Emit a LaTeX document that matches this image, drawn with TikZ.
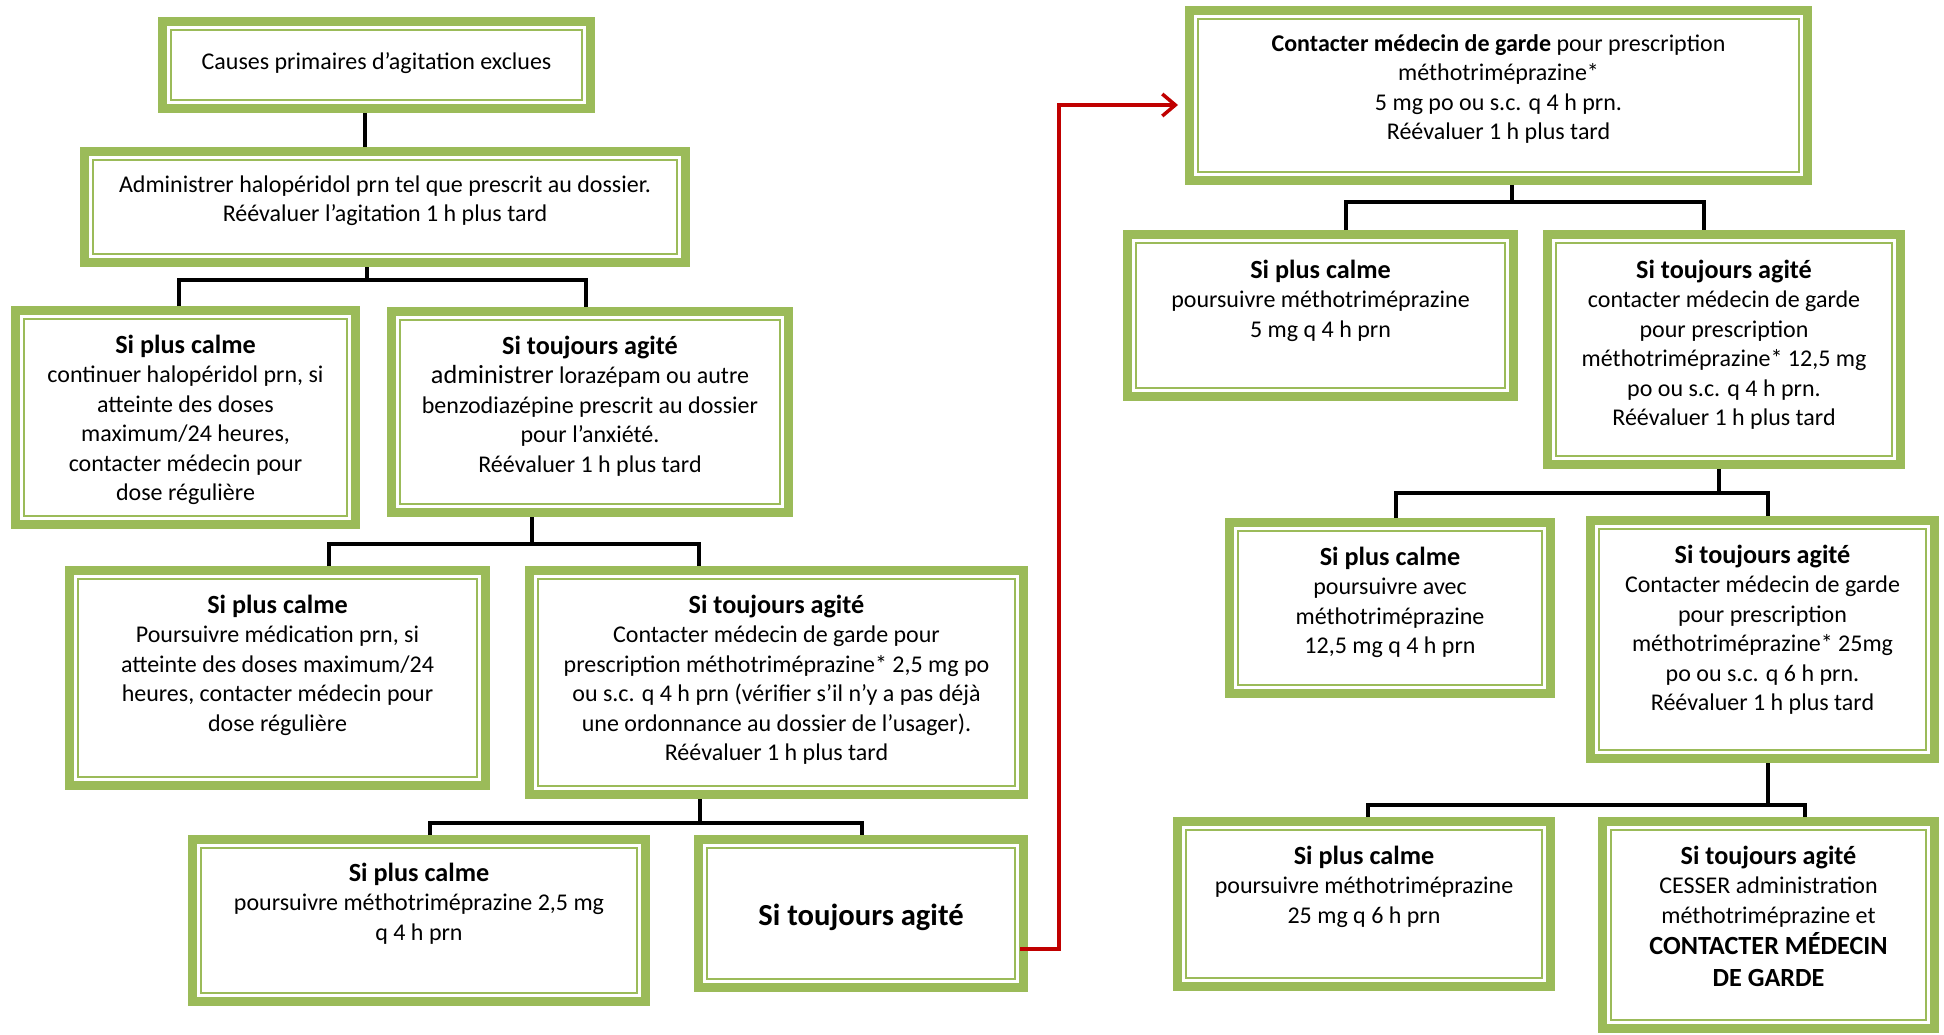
\documentclass[tikz,border=0pt]{standalone}
\usepackage{fontspec}
\setmainfont{Carlito}
\usetikzlibrary{arrows.meta}
\definecolor{boxgreen}{HTML}{9BBB59}
\definecolor{arrowred}{HTML}{C00000}
\tikzset{
  gbox/.style={rectangle, draw=boxgreen, line width=9pt, fill=white, inner sep=0pt,
    path picture={\draw[boxgreen, line width=2.6pt]
      ([xshift=8.5pt,yshift=-8.5pt]path picture bounding box.north west) rectangle
      ([xshift=-8.5pt,yshift=8.5pt]path picture bounding box.south east);}},
  conn/.style={draw=black, line width=3.5pt},
  redconn/.style={draw=arrowred, line width=3.5pt, -{Straight Barb[length=13pt,width=22pt]}},
  txt/.style={anchor=north, align=center, inner sep=0pt, font=\fontsize{24}{29.5}\selectfont},
}
\newcommand\ttl[1]{{\fontsize{26.2}{29.5}\selectfont\bfseries #1}}
\newcommand\fl{\rule{0pt}{22pt}}
\newcommand\gbox[5]{\node[gbox, minimum width={#4pt-#2pt-9pt}, minimum height={#5pt-#3pt-9pt}] (#1) at ({(#2+#4)/2},{(#3+#5)/2}) {};}
\begin{document}
\begin{tikzpicture}[x=1pt,y=-1pt]
\fill[white] (0,0) rectangle (1944,1034);
\useasboundingbox (0,0) rectangle (1944,1034);

% boxes
\gbox{b1}{158}{17}{595}{113}
\gbox{b2}{80}{147}{690}{267}
\gbox{b3}{11}{306}{360}{529}
\gbox{b4}{387}{307}{793}{517}
\gbox{b5}{65}{566}{490}{790}
\gbox{b6}{525}{566}{1028}{799}
\gbox{b7}{188}{835}{650}{1006}
\gbox{b8}{694}{835}{1028}{992}
\gbox{b9}{1185}{6}{1812}{185}
\gbox{b10}{1123}{230}{1518}{401}
\gbox{b11}{1543}{230}{1905}{469}
\gbox{b12}{1225}{518}{1555}{698}
\gbox{b13}{1586}{516}{1939}{763}
\gbox{b14}{1173}{817}{1555}{991}
\gbox{b15}{1598}{817}{1939}{1033}

% texts
\node[txt] (t1) at (376.5,47) {\fl Causes primaires d’agitation exclues};
\node[txt] (t2) at (385,170) {\fl Administrer halopéridol prn tel que prescrit au dossier.\\ Réévaluer l’agitation 1 h plus tard};
\node[txt] (t3) at (185.5,331) {\fl\ttl{Si plus calme}\\ continuer halopéridol prn, si\\ atteinte des doses\\ maximum/24 heures,\\ contacter médecin pour\\ dose régulière};
\node[txt] (t4) at (590,332) {\fl\ttl{Si toujours agité}\\ {\fontsize{26.2}{29.5}\selectfont administrer} lorazépam ou autre\\ benzodiazépine prescrit au dossier\\ pour l’anxiété.\\ Réévaluer 1 h plus tard};
\node[txt] (t5) at (277.5,591) {\fl\ttl{Si plus calme}\\ Poursuivre médication prn, si\\ atteinte des doses maximum/24\\ heures, contacter médecin pour\\ dose régulière};
\node[txt] (t6) at (776.5,591) {\fl\ttl{Si toujours agité}\\ Contacter médecin de garde pour\\ prescription méthotriméprazine* 2,5 mg po\\ ou s.c. q 4 h prn (vérifier s’il n’y a pas déjà\\ une ordonnance au dossier de l’usager).\\ Réévaluer 1 h plus tard};
\node[txt] (t7) at (419,859) {\fl\ttl{Si plus calme}\\ poursuivre méthotriméprazine 2,5 mg\\ q 4 h prn};
\node[anchor=base, inner sep=0pt, font=\fontsize{30.6}{36}\selectfont\bfseries] (t8) at (861,925) {Si toujours agité};
\node[txt] (t9) at (1498.5,29) {\fl\textbf{Contacter médecin de garde} pour prescription\\ méthotriméprazine*\\ 5 mg po ou s.c. q 4 h prn.\\ Réévaluer 1 h plus tard};
\node[txt] (t10) at (1320.5,256) {\fl\ttl{Si plus calme}\\ poursuivre méthotriméprazine\\ 5 mg q 4 h prn};
\node[txt] (t11) at (1724,256) {\fl\ttl{Si toujours agité}\\ contacter médecin de garde\\ pour prescription\\ méthotriméprazine* 12,5 mg\\ po ou s.c. q 4 h prn.\\ Réévaluer 1 h plus tard};
\node[txt] (t12) at (1390,543) {\fl\ttl{Si plus calme}\\ poursuivre avec\\ méthotriméprazine\\ 12,5 mg q 4 h prn};
\node[txt] (t13) at (1762.5,541) {\fl\ttl{Si toujours agité}\\ Contacter médecin de garde\\ pour prescription\\ méthotriméprazine* 25mg\\ po ou s.c. q 6 h prn.\\ Réévaluer 1 h plus tard};
\node[txt] (t14) at (1364,842) {\fl\ttl{Si plus calme}\\ poursuivre méthotriméprazine\\ 25 mg q 6 h prn};
\node[txt] (t15) at (1768.5,842) {\fl\ttl{Si toujours agité}\\ CESSER administration\\ méthotriméprazine et\\[1.5pt] \ttl{CONTACTER MÉDECIN}\\[2.5pt] \ttl{DE GARDE}};

% connectors
\coordinate (j1) at (365,130);
\draw[conn] (b1.south -| j1) -- (b2.north -| j1);

\coordinate (j2) at (367,280);
\draw[conn] (b2.south -| j2) -- (j2);
\draw[conn] ([xshift=-6.5pt]b3.north) |- (j2) -| ([xshift=-4pt]b4.north);

\coordinate (j3) at (532,544);
\draw[conn] (b4.south -| j3) -- (j3);
\draw[conn] ([xshift=51.5pt]b5.north) |- (j3) -| ([xshift=-77.5pt]b6.north);

\coordinate (j4) at (700,823);
\draw[conn] (b6.south -| j4) -- (j4);
\draw[conn] ([xshift=11pt]b7.north) |- (j4) -| ([xshift=1pt]b8.north);

\coordinate (j5) at (1512,202);
\draw[conn] (b9.south -| j5) -- (j5);
\draw[conn] ([xshift=25.5pt]b10.north) |- (j5) -| ([xshift=-20pt]b11.north);

\coordinate (j6) at (1719,493);
\draw[conn] (b11.south -| j6) -- (j6);
\draw[conn] ([xshift=6pt]b12.north) |- (j6) -| ([xshift=5.5pt]b13.north);

\coordinate (j7) at (1768,805);
\draw[conn] (b13.south -| j7) -- (j7);
\draw[conn] ([xshift=4pt]b14.north) |- (j7) -| ([xshift=36.5pt]b15.north);

% red arrow
\path ([xshift=-8pt]b8.east) coordinate (r0);
\path ([xshift=-7pt]b9.west) coordinate (r3);
\coordinate (r1) at (1059,949);
\coordinate (r2) at (1059,105);
\draw[redconn] (r0 |- r1) -- (r1) -- (r2) -- (r3 |- r2);
\end{tikzpicture}
\end{document}
